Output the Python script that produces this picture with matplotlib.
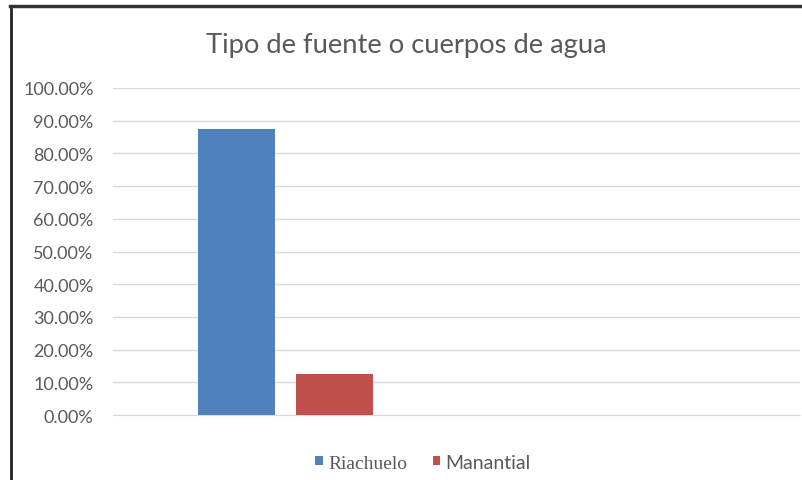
import matplotlib.pyplot as plt
from matplotlib.ticker import FuncFormatter

# Datos del gráfico
series = ["Riachuelo", "Manantial"]
valores = [0.875, 0.125]
colores = ["#4f81bd", "#c0504d"]
y_ticks = [i / 10 for i in range(11)]

fuente = "Lato"

fig = plt.figure(figsize=(8.03, 4.81), dpi=100)
ax = fig.add_axes([0.1407, 0.135, 0.855, 0.68])

ancho = 0.2245
desplazamientos = [-0.143, 0.143]
for nombre, valor, color, d in zip(series, valores, colores, desplazamientos):
    ax.bar(0 + d, valor, width=ancho, color=color, label=nombre, zorder=3)

ax.set_xlim(-0.503, 1.497)
ax.set_ylim(0, 1)
ax.set_yticks(y_ticks)
ax.yaxis.set_major_formatter(FuncFormatter(lambda v, _: f"{v * 100:.2f}%"))
ax.set_xticks([])
ax.grid(axis="y", color="#d9d9d9", linewidth=1, zorder=0)
for lado in ["top", "right", "left"]:
    ax.spines[lado].set_visible(False)
ax.spines["bottom"].set_color("#d9d9d9")
ax.tick_params(axis="y", length=0, pad=14, colors="#595959", labelsize=13)
for t in ax.get_yticklabels():
    t.set_family(fuente)

fig.text(0.506, 0.905, "Tipo de fuente o cuerpos de agua", ha="center", va="center",
         fontsize=19.7, color="#595959", family=fuente)

leg = fig.legend(loc="center", bbox_to_anchor=(0.527, 0.036), ncol=2, frameon=False,
                 handlelength=0.37, handleheight=0.37, handletextpad=0.3,
                 columnspacing=1.3, fontsize=14)
leg.get_texts()[0].set_family("Liberation Serif")
leg.get_texts()[1].set_family(fuente)
for t in leg.get_texts():
    t.set_color("#595959")

# Marco de la imagen
fig.add_artist(plt.Line2D([0.0137, 0.0137], [0, 0.985], color="#222222", linewidth=2))
fig.add_artist(plt.Line2D([0.0125, 1], [0.985, 0.985], color="#333333", linewidth=2.5))

fig.savefig("out.png", dpi=100, facecolor="white")
